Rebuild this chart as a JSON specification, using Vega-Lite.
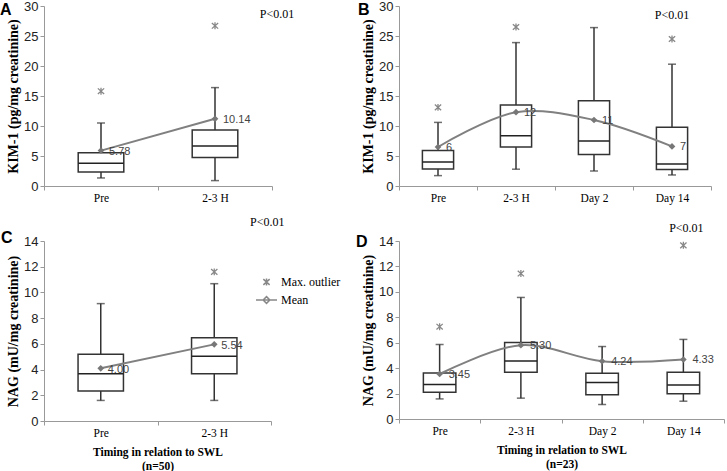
{
  "$schema": "https://vega.github.io/schema/vega-lite/v6.json",
  "background": "white",
  "padding": {"left": 0, "top": 0, "right": 0, "bottom": 0},
  "bounds": "flush",
  "columns": 2,
  "spacing": {"row": 55, "column": 127},
  "config": {
    "view": {"stroke": null},
    "font": "Liberation Sans",
    "axisY": {"grid": false, "tickCount": 8, "domainColor": "#999", "tickColor": "#999", "tickSize": 4, "labelPadding": 2, "labelOverlap": false, "labelFont": "Liberation Sans", "labelFontSize": 13, "labelColor": "#222", "titleFont": "Liberation Serif", "titleFontSize": 14, "titleFontWeight": "bold", "titleColor": "#000", "titlePadding": 3},
    "axisX": {"grid": false, "domainColor": "#999", "tickColor": "#999", "tickSize": 4, "tickBand": "extent", "labelPadding": 2, "labelAngle": 0, "labelFont": "Liberation Serif", "labelFontSize": 11.5, "labelColor": "#000", "titleFont": "Liberation Serif", "titleFontSize": 11.5, "titleFontWeight": "bold", "titleColor": "#000", "titlePadding": 8, "titleLineHeight": 14},
    "title": {"font": "Liberation Sans", "fontSize": 16, "fontWeight": "bold", "color": "#000", "anchor": "start", "frame": "group", "baseline": "alphabetic"}
  },
  "concat": [
    {
      "width": 228, "height": 180,
      "title": {"text": "A", "offset": -17.5, "dx": -44},
      "data": {"values": [
        {"t": "Pre", "lower": 1.34, "q1": 2.34, "median": 3.78, "q3": 5.56, "upper": 10.5, "mean": 5.9, "meanLabel": "5.78", "outlier": 15.8},
        {"t": "2-3 H", "lower": 0.9, "q1": 4.73, "median": 6.68, "q3": 9.35, "upper": 16.4, "mean": 11.2, "meanLabel": "10.14", "outlier": 26.7}
      ]},
      "encoding": {"x": {"field": "t", "type": "nominal", "sort": null, "scale": {"paddingInner": 0, "paddingOuter": 0}, "axis": {"title": null}}},
      "layer": [
        {"mark": {"type": "rule", "color": "#333", "strokeWidth": 1.5}, "encoding": {"y": {"field": "lower", "type": "quantitative", "scale": {"domain": [0, 30], "nice": false}, "axis": {"title": "KIM-1 (pg/mg creatinine)", "values": [0, 5, 10, 15, 20, 25, 30], "labelOverlap": false}}, "y2": {"field": "upper"}}},
        {"mark": {"type": "bar", "fill": "white", "stroke": "#333", "strokeWidth": 1.5, "width": {"band": 0.4}}, "encoding": {"y": {"field": "q1", "type": "quantitative"}, "y2": {"field": "q3"}}},
        {"mark": {"type": "bar", "fill": "white", "stroke": "#222", "strokeWidth": 1.5, "width": {"band": 0.4}}, "encoding": {"y": {"field": "median", "type": "quantitative"}, "y2": {"field": "median"}}},
        {"mark": {"type": "tick", "color": "#333", "thickness": 1.5, "size": 8}, "encoding": {"y": {"field": "lower", "type": "quantitative"}}},
        {"mark": {"type": "tick", "color": "#333", "thickness": 1.5, "size": 8}, "encoding": {"y": {"field": "upper", "type": "quantitative"}}},
        {"mark": {"type": "line", "color": "#808080", "strokeWidth": 2, "interpolate": "catmull-rom"}, "encoding": {"y": {"field": "mean", "type": "quantitative"}}},
        {"mark": {"type": "point", "shape": "diamond", "filled": true, "color": "#777", "size": 45, "opacity": 1}, "encoding": {"y": {"field": "mean", "type": "quantitative"}}},
        {"mark": {"type": "text", "align": "left", "baseline": "middle", "dx": 8, "dy": 1, "fontSize": 11, "fill": "#444"}, "encoding": {"y": {"field": "mean", "type": "quantitative"}, "text": {"field": "meanLabel"}}},
        {"mark": {"type": "point", "shape": "M-0.3,-0.27L0.3,0.27M-0.3,0.27L0.3,-0.27M0,-0.33L0,0.33", "size": 441, "filled": false, "color": "#888", "strokeWidth": 1.3, "opacity": 1}, "encoding": {"y": {"field": "outlier", "type": "quantitative"}}},
        {"data": {"values": [{"p": "P<0.01"}]}, "mark": {"type": "text", "font": "Liberation Serif", "fontSize": 12, "fill": "#000", "dx": 62}, "encoding": {"x": {"datum": "2-3 H"}, "y": {"datum": 28.7}, "text": {"field": "p"}}}
      ]
    },
    {
      "width": 312, "height": 180,
      "title": {"text": "B", "offset": -18, "dx": -41},
      "data": {"values": [
        {"t": "Pre", "lower": 1.73, "q1": 2.84, "median": 4.0, "q3": 5.91, "upper": 10.6, "mean": 6.5, "meanLabel": "6", "outlier": 13.1},
        {"t": "2-3 H", "lower": 2.8, "q1": 6.5, "median": 8.37, "q3": 13.5, "upper": 23.9, "mean": 12.3, "meanLabel": "12", "outlier": 26.5},
        {"t": "Day 2", "lower": 2.5, "q1": 5.24, "median": 7.5, "q3": 14.2, "upper": 26.4, "mean": 11.0, "meanLabel": "11"},
        {"t": "Day 14", "lower": 1.84, "q1": 2.73, "median": 3.68, "q3": 9.8, "upper": 20.3, "mean": 6.6, "meanLabel": "7", "outlier": 24.5}
      ]},
      "encoding": {"x": {"field": "t", "type": "nominal", "sort": null, "scale": {"paddingInner": 0, "paddingOuter": 0}, "axis": {"title": null}}},
      "layer": [
        {"mark": {"type": "rule", "color": "#333", "strokeWidth": 1.5}, "encoding": {"y": {"field": "lower", "type": "quantitative", "scale": {"domain": [0, 30], "nice": false}, "axis": {"title": "KIM-1 (pg/mg creatinine)", "values": [0, 5, 10, 15, 20, 25, 30], "labelOverlap": false}}, "y2": {"field": "upper"}}},
        {"mark": {"type": "bar", "fill": "white", "stroke": "#333", "strokeWidth": 1.5, "width": {"band": 0.4}}, "encoding": {"y": {"field": "q1", "type": "quantitative"}, "y2": {"field": "q3"}}},
        {"mark": {"type": "bar", "fill": "white", "stroke": "#222", "strokeWidth": 1.5, "width": {"band": 0.4}}, "encoding": {"y": {"field": "median", "type": "quantitative"}, "y2": {"field": "median"}}},
        {"mark": {"type": "tick", "color": "#333", "thickness": 1.5, "size": 8}, "encoding": {"y": {"field": "lower", "type": "quantitative"}}},
        {"mark": {"type": "tick", "color": "#333", "thickness": 1.5, "size": 8}, "encoding": {"y": {"field": "upper", "type": "quantitative"}}},
        {"mark": {"type": "line", "color": "#808080", "strokeWidth": 2, "interpolate": "catmull-rom"}, "encoding": {"y": {"field": "mean", "type": "quantitative"}}},
        {"mark": {"type": "point", "shape": "diamond", "filled": true, "color": "#777", "size": 45, "opacity": 1}, "encoding": {"y": {"field": "mean", "type": "quantitative"}}},
        {"mark": {"type": "text", "align": "left", "baseline": "middle", "dx": 8, "dy": 1, "fontSize": 11, "fill": "#444"}, "encoding": {"y": {"field": "mean", "type": "quantitative"}, "text": {"field": "meanLabel"}}},
        {"mark": {"type": "point", "shape": "M-0.3,-0.27L0.3,0.27M-0.3,0.27L0.3,-0.27M0,-0.33L0,0.33", "size": 441, "filled": false, "color": "#888", "strokeWidth": 1.3, "opacity": 1}, "encoding": {"y": {"field": "outlier", "type": "quantitative"}}},
        {"data": {"values": [{"p": "P<0.01"}]}, "mark": {"type": "text", "font": "Liberation Serif", "fontSize": 12, "fill": "#000", "dx": 0}, "encoding": {"x": {"datum": "Day 14"}, "y": {"datum": 28.5}, "text": {"field": "p"}}}
      ]
    },
    {
      "width": 227, "height": 180,
      "title": {"text": "C", "offset": -30.5, "dx": -43},
      "data": {"values": [
        {"t": "Pre", "lower": 1.6, "q1": 2.33, "median": 3.68, "q3": 5.19, "upper": 9.13, "mean": 4.1, "meanLabel": "4.00"},
        {"t": "2-3 H", "lower": 1.6, "q1": 3.68, "median": 5.03, "q3": 6.48, "upper": 10.68, "mean": 5.96, "meanLabel": "5.54", "outlier": 11.6}
      ]},
      "encoding": {"x": {"field": "t", "type": "nominal", "sort": null, "scale": {"paddingInner": 0, "paddingOuter": 0}, "axis": {"title": ["Timing in relation to SWL", "(n=50)"]}}},
      "layer": [
        {"mark": {"type": "rule", "color": "#333", "strokeWidth": 1.5}, "encoding": {"y": {"field": "lower", "type": "quantitative", "scale": {"domain": [0, 14], "nice": false}, "axis": {"title": "NAG (mU/mg creatinine)", "values": [0, 2, 4, 6, 8, 10, 12, 14], "labelOverlap": false}}, "y2": {"field": "upper"}}},
        {"mark": {"type": "bar", "fill": "white", "stroke": "#333", "strokeWidth": 1.5, "width": {"band": 0.4}}, "encoding": {"y": {"field": "q1", "type": "quantitative"}, "y2": {"field": "q3"}}},
        {"mark": {"type": "bar", "fill": "white", "stroke": "#222", "strokeWidth": 1.5, "width": {"band": 0.4}}, "encoding": {"y": {"field": "median", "type": "quantitative"}, "y2": {"field": "median"}}},
        {"mark": {"type": "tick", "color": "#333", "thickness": 1.5, "size": 8}, "encoding": {"y": {"field": "lower", "type": "quantitative"}}},
        {"mark": {"type": "tick", "color": "#333", "thickness": 1.5, "size": 8}, "encoding": {"y": {"field": "upper", "type": "quantitative"}}},
        {"mark": {"type": "line", "color": "#808080", "strokeWidth": 2, "interpolate": "catmull-rom"}, "encoding": {"y": {"field": "mean", "type": "quantitative"}}},
        {"mark": {"type": "point", "shape": "diamond", "filled": true, "color": "#777", "size": 45, "opacity": 1}, "encoding": {"y": {"field": "mean", "type": "quantitative"}}},
        {"mark": {"type": "text", "align": "left", "baseline": "middle", "dx": 7, "dy": 2, "fontSize": 11, "fill": "#444"}, "encoding": {"y": {"field": "mean", "type": "quantitative"}, "text": {"field": "meanLabel"}}},
        {"mark": {"type": "point", "size": 441, "filled": false, "color": "#888", "strokeWidth": 1.3, "opacity": 1}, "encoding": {"y": {"field": "outlier", "type": "quantitative"},
          "shape": {"datum": "Max. outlier", "type": "nominal", "scale": {"domain": ["Max. outlier", "Mean"], "range": ["M-0.3,-0.27L0.3,0.27M-0.3,0.27L0.3,-0.27M0,-0.33L0,0.33", "M-1,0L1,0M0,-0.32L0.32,0L0,0.32L-0.32,0Z"]},
            "legend": {"title": null, "orient": "none", "legendX": 211, "legendY": 264.5, "padding": 0, "symbolSize": 441, "labelFont": "Liberation Serif", "labelFontSize": 12, "labelColor": "#000", "labelOffset": 3, "rowPadding": -4,
              "encode": {"symbols": {"update": {"fill": {"value": "#808080"}, "stroke": {"value": "#808080"}, "strokeWidth": {"value": 1.6}, "opacity": {"value": 1}}}}}}}},
        {"data": {"values": [{"p": "P<0.01"}]}, "mark": {"type": "text", "font": "Liberation Serif", "fontSize": 12, "fill": "#000", "dx": 53}, "encoding": {"x": {"datum": "2-3 H"}, "y": {"datum": 15.5}, "text": {"field": "p"}}}
      ]
    },
    {
      "width": 325, "height": 178,
      "title": {"text": "D", "offset": -28, "dx": -43},
      "data": {"values": [
        {"t": "Pre", "lower": 1.58, "q1": 2.11, "median": 2.72, "q3": 3.62, "upper": 5.86, "mean": 3.54, "meanLabel": "3.45", "outlier": 7.26},
        {"t": "2-3 H", "lower": 1.64, "q1": 3.67, "median": 4.57, "q3": 6.02, "upper": 9.56, "mean": 5.81, "meanLabel": "5.30", "outlier": 11.44},
        {"t": "Day 2", "lower": 1.14, "q1": 1.9, "median": 2.88, "q3": 3.59, "upper": 5.7, "mean": 4.55, "meanLabel": "4.24"},
        {"t": "Day 14", "lower": 1.4, "q1": 1.98, "median": 2.67, "q3": 3.67, "upper": 6.26, "mean": 4.68, "meanLabel": "4.33", "outlier": 13.66}
      ]},
      "encoding": {"x": {"field": "t", "type": "nominal", "sort": null, "scale": {"paddingInner": 0, "paddingOuter": 0}, "axis": {"title": ["Timing in relation to SWL", "(n=23)"]}}},
      "layer": [
        {"mark": {"type": "rule", "color": "#333", "strokeWidth": 1.5}, "encoding": {"y": {"field": "lower", "type": "quantitative", "scale": {"domain": [0, 14], "nice": false}, "axis": {"title": "NAG (mU/mg creatinine)", "values": [0, 2, 4, 6, 8, 10, 12, 14], "labelOverlap": false}}, "y2": {"field": "upper"}}},
        {"mark": {"type": "bar", "fill": "white", "stroke": "#333", "strokeWidth": 1.5, "width": {"band": 0.4}}, "encoding": {"y": {"field": "q1", "type": "quantitative"}, "y2": {"field": "q3"}}},
        {"mark": {"type": "bar", "fill": "white", "stroke": "#222", "strokeWidth": 1.5, "width": {"band": 0.4}}, "encoding": {"y": {"field": "median", "type": "quantitative"}, "y2": {"field": "median"}}},
        {"mark": {"type": "tick", "color": "#333", "thickness": 1.5, "size": 8}, "encoding": {"y": {"field": "lower", "type": "quantitative"}}},
        {"mark": {"type": "tick", "color": "#333", "thickness": 1.5, "size": 8}, "encoding": {"y": {"field": "upper", "type": "quantitative"}}},
        {"mark": {"type": "line", "color": "#808080", "strokeWidth": 2, "interpolate": "catmull-rom"}, "encoding": {"y": {"field": "mean", "type": "quantitative"}}},
        {"mark": {"type": "point", "shape": "diamond", "filled": true, "color": "#777", "size": 45, "opacity": 1}, "encoding": {"y": {"field": "mean", "type": "quantitative"}}},
        {"mark": {"type": "text", "align": "left", "baseline": "middle", "dx": 9, "dy": 1, "fontSize": 11, "fill": "#444"}, "encoding": {"y": {"field": "mean", "type": "quantitative"}, "text": {"field": "meanLabel"}}},
        {"mark": {"type": "point", "shape": "M-0.3,-0.27L0.3,0.27M-0.3,0.27L0.3,-0.27M0,-0.33L0,0.33", "size": 441, "filled": false, "color": "#888", "strokeWidth": 1.3, "opacity": 1}, "encoding": {"y": {"field": "outlier", "type": "quantitative"}}},
        {"data": {"values": [{"p": "P<0.01"}]}, "mark": {"type": "text", "font": "Liberation Serif", "fontSize": 12, "fill": "#000", "dx": 3}, "encoding": {"x": {"datum": "Day 14"}, "y": {"datum": 15.05}, "text": {"field": "p"}}}
      ]
    }
  ]
}
